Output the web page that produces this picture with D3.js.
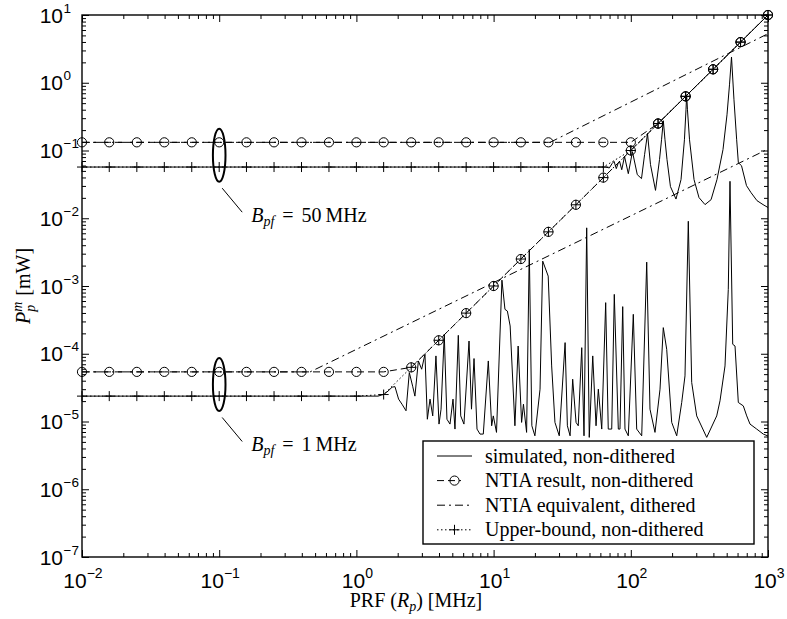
<!DOCTYPE html>
<html>
<head>
<meta charset="utf-8">
<script src="https://cdn.jsdelivr.net/npm/d3@7"></script>
<style>
  body { margin: 0; background: #fff; }
  text { fill: #000; }
</style>
</head>
<body>
<svg id="chart" width="787" height="619"></svg>
<script>
// ---- data ----
const xTicks = [1e-2, 1e-1, 1, 10, 100, 1000];
const xTickExp = ["\u22122", "\u22121", "0", "1", "2", "3"];
const yTicks = [1e-7, 1e-6, 1e-5, 1e-4, 1e-3, 1e-2, 1e-1, 1, 10];
const yTickExp = ["\u22127", "\u22126", "\u22125", "\u22124", "\u22123", "\u22122", "\u22121", "0", "1"];

// marker positions (PRF, MHz)
const markerR = [0.01, 0.0158, 0.0251, 0.0398, 0.0631, 0.1, 0.158, 0.251, 0.398, 0.631,
  1, 1.58, 2.51, 3.98, 6.31, 10, 15.8, 25.1, 39.8, 63.1, 100, 158, 251, 398, 631, 1000];

// NTIA result, non-dithered
const ntia50 = [0.132, 0.132, 0.132, 0.132, 0.132, 0.132, 0.132, 0.132, 0.132, 0.132,
  0.132, 0.132, 0.132, 0.132, 0.132, 0.132, 0.132, 0.132, 0.132, 0.132, 0.132, 0.25, 0.63, 1.58, 3.98, 10];
const ntia1 = [5.4e-5, 5.4e-5, 5.4e-5, 5.4e-5, 5.4e-5, 5.4e-5, 5.4e-5, 5.4e-5, 5.4e-5, 5.4e-5,
  5.4e-5, 5.4e-5, 6.3e-5, 1.58e-4, 3.98e-4, 1e-3, 2.5e-3, 6.3e-3, 0.0158, 0.0398, 0.1, 0.25, 0.63, 1.58, 3.98, 10];

// Upper-bound, non-dithered
const upper50 = [0.057, 0.057, 0.057, 0.057, 0.057, 0.057, 0.057, 0.057, 0.057, 0.057,
  0.057, 0.057, 0.057, 0.057, 0.057, 0.057, 0.057, 0.057, 0.057, 0.057, 0.1, 0.25, 0.63, 1.58, 3.98, 10];
const upper1 = [2.37e-5, 2.37e-5, 2.37e-5, 2.37e-5, 2.37e-5, 2.37e-5, 2.37e-5, 2.37e-5, 2.37e-5, 2.37e-5,
  2.37e-5, 2.5e-5, 6.3e-5, 1.58e-4, 3.98e-4, 1e-3, 2.5e-3, 6.3e-3, 0.0158, 0.0398, 0.1, 0.25, 0.63, 1.58, 3.98, 10];

// NTIA equivalent, dithered
const dith50 = [[0.01, 0.132], [25.8, 0.132], [1000, 5.3]];
const dith1 = [[0.01, 5.4e-5], [0.46, 5.4e-5], [1000, 0.105]];

// simulated, non-dithered  [PRF MHz, power mW]
const sim50 = [[0.01, 0.057], [65.9, 0.057], [69.7, 0.0552], [73.0, 0.064], [75.5, 0.069], [78.4, 0.054],
  [80.7, 0.064], [82.8, 0.0695], [85.9, 0.052], [90.0, 0.0818], [95.9, 0.0455], [102.8, 0.096],
  [111.5, 0.044], [119.7, 0.0385], [126, 0.0867], [132.4, 0.177], [139.2, 0.0618], [151.4, 0.0258],
  [161.9, 0.0733], [167.5, 0.144], [172.6, 0.275], [177.5, 0.144], [183.6, 0.0733], [194.5, 0.0293],
  [213.5, 0.0192], [232.3, 0.0372], [246, 0.144], [252.5, 0.399], [255.4, 0.664], [258.8, 0.399],
  [267.9, 0.144], [289, 0.0372], [314, 0.0202], [347.5, 0.0159], [384.6, 0.0188], [424.6, 0.0372],
  [469.9, 0.103], [502.5, 0.336], [524, 0.931], [542, 2.40], [565, 0.56], [591, 0.144], [608, 0.066],
  [641, 0.0597], [697, 0.0303], [752, 0.0239], [831, 0.0182], [920, 0.0159], [1000, 0.0144]];

const sim1 = [[0.01, 2.37e-5], [1.44, 2.37e-5], [1.59, 2.53e-5], [1.70, 2.81e-5], [1.82, 3.21e-5],
  [1.91, 3.27e-5], [2.03, 2.14e-5], [2.15, 1.80e-5], [2.30, 1.44e-5], [2.43, 5.28e-5], [2.57, 3.32e-5],
  [2.67, 2.37e-5], [2.83, 7.83e-5], [2.99, 5.91e-5], [3.16, 9.84e-5], [3.29, 1.08e-5], [3.44, 2.14e-5],
  [3.60, 1.21e-5], [3.80, 9.29e-5], [4.00, 9.16e-6], [4.14, 1.52e-5], [4.37, 1.94e-4], [4.57, 1.08e-5],
  [4.81, 9.16e-6], [5.06, 2.14e-5], [5.23, 7.73e-6], [5.53, 1.87e-4], [5.76, 1.21e-5], [6.08, 9.16e-6],
  [6.62, 1.54e-4], [6.90, 1.52e-5], [7.20, 8.50e-5], [7.57, 7.73e-6], [7.96, 6.52e-6], [8.41, 6.52e-6],
  [9.15, 7.83e-5], [9.68, 8.65e-6], [9.95, 1.21e-5], [10.5, 6.91e-6], [11.5, 1.22e-3], [12.1, 4.52e-4],
  [12.6, 4.27e-4], [13.2, 2.57e-4], [14.3, 8.65e-6], [15.1, 1.30e-4], [16.0, 9.70e-6], [16.5, 1.80e-5],
  [17.4, 6.91e-6], [18.2, 3.46e-3], [19.0, 8.65e-6], [20.0, 6.15e-6], [21.8, 3.00e-5], [22.8, 2.33e-3],
  [25.0, 1.40e-3], [26.5, 6.61e-5], [28.0, 9.70e-6], [30.1, 6.15e-6], [33.2, 1.46e-4], [34.5, 8.65e-6],
  [36.1, 6.15e-6], [37.7, 4.21e-5], [39.9, 9.70e-6], [41.4, 8.65e-6], [43.9, 1.23e-4], [45.6, 6.15e-6],
  [47.7, 7.22e-3], [49.8, 5.83e-6], [52.8, 9.29e-5], [55.8, 8.65e-6], [58.0, 3.00e-5], [61.4, 7.73e-6],
  [65.6, 5.68e-4], [68.5, 7.73e-6], [72.6, 7.73e-6], [75.8, 7.52e-4], [81.1, 7.73e-6], [83.4, 7.73e-6],
  [87.3, 4.96e-4], [90.7, 7.73e-6], [95.9, 6.15e-6], [104.3, 3.82e-4], [110.4, 7.73e-6], [120.1, 6.15e-6],
  [130.6, 2.25e-3], [138.0, 1.52e-5], [150.1, 6.91e-6], [163.3, 3.00e-5], [172.5, 2.43e-4], [182.7, 1.16e-4],
  [198.7, 9.70e-6], [216.1, 6.15e-6], [235.0, 1.91e-5], [248.3, 4.71e-5], [262.5, 9.03e-3], [277.9, 3.77e-5],
  [302.2, 1.21e-5], [357.5, 5.83e-6], [422.8, 1.21e-5], [446.9, 2.02e-5], [486.0, 6.61e-5], [513.5, 8.91e-4],
  [528.4, 0.0351], [553.1, 1.38e-4], [574.9, 1.30e-4], [607.7, 1.91e-5], [660.7, 1.70e-5], [699.7, 1.21e-5],
  [739.4, 9.16e-6], [827.4, 7.73e-6], [924.2, 6.52e-6], [1000, 6.10e-6]];

// bandwidth annotations: [PRF, upper level, lower level, label value]
const notes = [[0.1, 0.132, 0.057, "50"], [0.1, 5.4e-5, 2.37e-5, "1"]];

const legendLabels = ["simulated, non-dithered", "NTIA result, non-dithered",
  "NTIA equivalent, dithered", "Upper-bound, non-dithered"];

// ---- drawing ----
const svg = d3.select("#chart");
const pL = 82, pR = 768, pT = 15, pB = 557;
const x = d3.scaleLog().domain([1e-2, 1e3]).range([pL, pR]);
const y = d3.scaleLog().domain([1e-7, 1e1]).range([pB, pT]);
const line = d3.line().x(d => x(d[0])).y(d => y(d[1]));
const pairs = vals => markerR.map((r, i) => [r, vals[i]]);

svg.append("clipPath").attr("id", "clip")
  .append("rect").attr("x", pL).attr("y", pT).attr("width", pR - pL).attr("height", pB - pT);

const dashes = { sim: null, ntia: "7,4", dith: "8,4,2,4", upper: "1.5,2.5" };

function drawLine(data, dash) {
  svg.append("path").datum(data)
    .attr("d", line)
    .attr("fill", "none")
    .attr("stroke", "#000")
    .attr("stroke-width", 1)
    .attr("stroke-dasharray", dash)
    .attr("clip-path", "url(#clip)");
}

function circles(data) {
  svg.append("g").selectAll("circle").data(data).join("circle")
    .attr("cx", d => x(d[0])).attr("cy", d => y(d[1])).attr("r", 4.6)
    .attr("fill", "none").attr("stroke", "#000").attr("stroke-width", 1);
}

function pluses(data) {
  svg.append("g").selectAll("path").data(data).join("path")
    .attr("d", d => `M${x(d[0]) - 5},${y(d[1])}h10M${x(d[0])},${y(d[1]) - 5}v10`)
    .attr("stroke", "#000").attr("stroke-width", 1);
}

drawLine(sim50, dashes.sim);
drawLine(sim1, dashes.sim);
drawLine(dith50, dashes.dith);
drawLine(dith1, dashes.dith);
drawLine(pairs(ntia50), dashes.ntia);
drawLine(pairs(ntia1), dashes.ntia);
drawLine(pairs(upper50), dashes.upper);
drawLine(pairs(upper1), dashes.upper);
circles(pairs(ntia50));
circles(pairs(ntia1));
pluses(pairs(upper50));
pluses(pairs(upper1));

// axes: major and minor ticks on all four sides, pointing inward
const minorX = [], minorY = [];
for (let e = -2; e < 3; e++) for (let k = 2; k < 10; k++) minorX.push(k * Math.pow(10, e));
for (let e = -7; e < 1; e++) for (let k = 2; k < 10; k++) minorY.push(k * Math.pow(10, e));

function ticks(axisFn, scale, vals, size, tr) {
  svg.append("g").attr("transform", tr)
    .call(axisFn(scale).tickValues(vals).tickSize(size).tickFormat(""))
    .call(g => g.select(".domain").remove())
    .call(g => g.selectAll("line").attr("stroke", "#000").attr("stroke-width", 1));
}
ticks(d3.axisBottom, x, xTicks, -7, `translate(0,${pB})`);
ticks(d3.axisBottom, x, minorX, -4, `translate(0,${pB})`);
ticks(d3.axisTop, x, xTicks, -7, `translate(0,${pT})`);
ticks(d3.axisTop, x, minorX, -4, `translate(0,${pT})`);
ticks(d3.axisLeft, y, yTicks, -7, `translate(${pL},0)`);
ticks(d3.axisLeft, y, minorY, -4, `translate(${pL},0)`);
ticks(d3.axisRight, y, yTicks, -7, `translate(${pR},0)`);
ticks(d3.axisRight, y, minorY, -4, `translate(${pR},0)`);

svg.append("rect").attr("x", pL).attr("y", pT)
  .attr("width", pR - pL).attr("height", pB - pT)
  .attr("fill", "none").attr("stroke", "#000").attr("stroke-width", 1.4);

// tick labels
const sans = "'Liberation Sans', Arial, sans-serif";
const serif = "'Liberation Serif', 'Times New Roman', serif";

xTicks.forEach((v, i) => {
  const t = svg.append("text").attr("x", x(v) + 1).attr("y", 588)
    .attr("text-anchor", "middle").attr("font-family", sans).attr("font-size", 21);
  t.append("tspan").text("10");
  t.append("tspan").attr("dy", -10).attr("font-size", 14).text(xTickExp[i]);
});

yTicks.forEach((v, i) => {
  svg.append("text").attr("x", 63).attr("y", y(v) + 7.5)
    .attr("text-anchor", "end").attr("font-family", sans).attr("font-size", 21).text("10");
  svg.append("text").attr("x", 63.5).attr("y", y(v) - 2.5)
    .attr("font-family", sans).attr("font-size", 13.5).text(yTickExp[i]);
});

// axis titles
const xt = svg.append("text").attr("x", 416).attr("y", 607)
  .attr("text-anchor", "middle").attr("font-family", serif).attr("font-size", 20);
xt.append("tspan").text("PRF (");
xt.append("tspan").attr("font-style", "italic").text("R");
xt.append("tspan").attr("font-style", "italic").attr("font-size", 14).attr("dy", 4).text("p");
xt.append("tspan").attr("dy", -4).text(") [MHz]");

const yt = svg.append("text").attr("transform", "translate(30,286) rotate(-90)")
  .attr("text-anchor", "middle").attr("font-family", serif).attr("font-size", 20);
yt.append("tspan").attr("font-style", "italic").text("P");
yt.append("tspan").attr("font-style", "italic").attr("font-size", 14).attr("dy", -8).text("m");
yt.append("tspan").attr("font-style", "italic").attr("font-size", 14).attr("dx", -10).attr("dy", 13).text("p");
yt.append("tspan").attr("dx", 9).attr("dy", -5).text("[mW]");

// bandwidth annotations
notes.forEach(n => {
  const cx = x(n[0]);
  const cy = (y(n[1]) + y(n[2])) / 2 + 0.5;
  svg.append("ellipse").attr("cx", cx).attr("cy", cy).attr("rx", 6.3).attr("ry", 26.5)
    .attr("fill", "none").attr("stroke", "#000").attr("stroke-width", 2);
  svg.append("line").attr("x1", cx + 3).attr("y1", cy + 33).attr("x2", cx + 23).attr("y2", cy + 57)
    .attr("stroke", "#000").attr("stroke-width", 1);
  const t = svg.append("text").attr("x", cx + 32).attr("y", cy + 67)
    .attr("font-family", serif).attr("font-size", 20);
  t.append("tspan").attr("font-style", "italic").text("B");
  t.append("tspan").attr("font-style", "italic").attr("font-size", 14).attr("dy", 4).text("pf");
  t.append("tspan").attr("dy", -4).attr("dx", 8).text("=");
  t.append("tspan").attr("dx", 8).text(`${n[3]}\u2009MHz`);
});

// legend
const lg = svg.append("g");
lg.append("rect").attr("x", 423).attr("y", 441).attr("width", 331).attr("height", 103)
  .attr("fill", "#fff").attr("stroke", "#000").attr("stroke-width", 1.4);
const rowY = i => 456 + i * 24.6;
const legendDash = [dashes.sim, dashes.ntia, dashes.dith, dashes.upper];
legendLabels.forEach((lab, i) => {
  const yy = rowY(i);
  lg.append("line").attr("x1", 437).attr("x2", i === 1 ? 461 : 472).attr("y1", yy).attr("y2", yy)
    .attr("stroke", "#000").attr("stroke-width", 1).attr("stroke-dasharray", legendDash[i]);
  if (i === 1) lg.append("circle").attr("cx", 454.5).attr("cy", yy).attr("r", 4.6)
    .attr("fill", "none").attr("stroke", "#000");
  if (i === 3) lg.append("path").attr("d", `M449.5,${yy}h10M454.5,${yy - 5}v10`).attr("stroke", "#000");
  lg.append("text").attr("x", 485).attr("y", yy + 6.5).attr("font-family", serif).attr("font-size", 20).text(lab);
});
</script>
</body>
</html>
